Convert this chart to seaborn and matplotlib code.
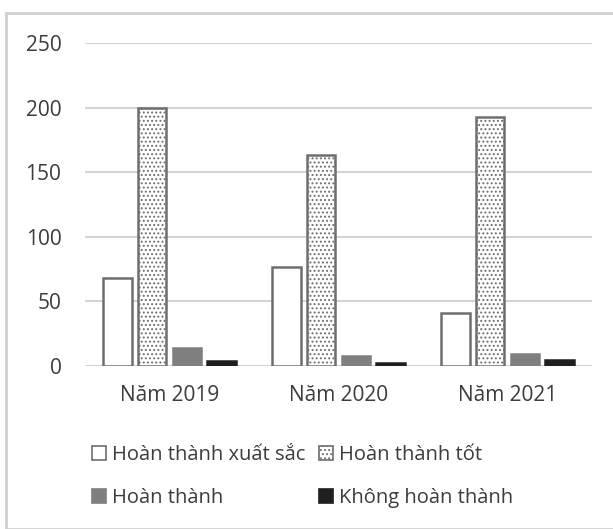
import matplotlib
matplotlib.use("Agg")
import matplotlib.pyplot as plt
import matplotlib.patches as mpatches
import seaborn as sns
import pandas as pd

years = ["Năm 2019", "Năm 2020", "Năm 2021"]
categories = ["Hoàn thành xuất sắc", "Hoàn thành tốt", "Hoàn thành", "Không hoàn thành"]
xuat_sac = [68, 77, 41]
tot = [200, 163, 193]
hoan_thanh = [14, 8, 9]
khong = [4, 2, 5]
yticks = [0, 50, 100, 150, 200, 250]

sns.set_theme(style="white")
plt.rcParams['font.family'] = ['Open Sans', 'DejaVu Sans']
plt.rcParams['hatch.linewidth'] = 0.9
plt.rcParams['hatch.color'] = '#444444'

series = [xuat_sac, tot, hoan_thanh, khong]
rows = []
for cat, vals in zip(categories, series):
    for y, v in zip(years, vals):
        rows.append({"year": y, "cat": cat, "value": v})
df = pd.DataFrame(rows)

faces = ["white", "white", "#7f7f7f", "#1f1f1f"]
edges = ["#6e6e6e", "#6e6e6e", "#7f7f7f", "#1f1f1f"]
hatches = [None, "....", None, None]
txt = "#3c3c3c"

fig = plt.figure(figsize=(6.13, 5.29), dpi=100)
ax = fig.add_axes([85/613, 1-366/529, (592-85)/613, (366-43)/529])

sns.barplot(data=df, x="year", y="value", hue="cat", hue_order=categories,
            order=years, ax=ax, width=0.82, legend=False,
            palette=faces, saturation=1)

for i, cont in enumerate(ax.containers):
    for bar in cont:
        bar.set_facecolor(faces[i])
        bar.set_edgecolor(edges[i])
        bar.set_linewidth(1.8)
        if hatches[i]:
            bar.set_hatch(hatches[i])
        w = bar.get_width()
        x = bar.get_x()
        bar.set_x(x + w * 0.09)
        bar.set_width(w * 0.82)

ax.set_ylim(0, 250)
ax.set_yticks(yticks)
ax.set_xlim(-0.5, 2.5)
ax.yaxis.grid(True, color="#d4d4d4", linewidth=1.5)
ax.set_axisbelow(True)
for s in ax.spines.values():
    s.set_visible(False)
ax.set_xlabel("")
ax.set_ylabel("")
ax.tick_params(axis="both", labelsize=15, labelcolor=txt, length=0)
ax.tick_params(axis="y", pad=17)
ax.tick_params(axis="x", pad=14)

handles = []
for i in range(4):
    handles.append(mpatches.Patch(facecolor=faces[i], edgecolor=edges[i],
                                  hatch=hatches[i], linewidth=1.2, label=categories[i]))
order = [0, 2, 1, 3]
leg = fig.legend([handles[i] for i in order], [categories[i] for i in order],
                 ncol=2, loc="upper left", bbox_to_anchor=(82/613, 1-435/529),
                 frameon=False, fontsize=14.5, handlelength=0.7, handleheight=0.7,
                 handletextpad=0.3, columnspacing=0.65, labelspacing=1.15,
                 labelcolor=txt, borderpad=0)

border = mpatches.Rectangle((6/613, 0), 1.0, 1-13/529, transform=fig.transFigure,
                            fill=False, edgecolor="#d0d0d0", linewidth=2)
fig.patches.append(border)

fig.savefig("out.png", dpi=100)
